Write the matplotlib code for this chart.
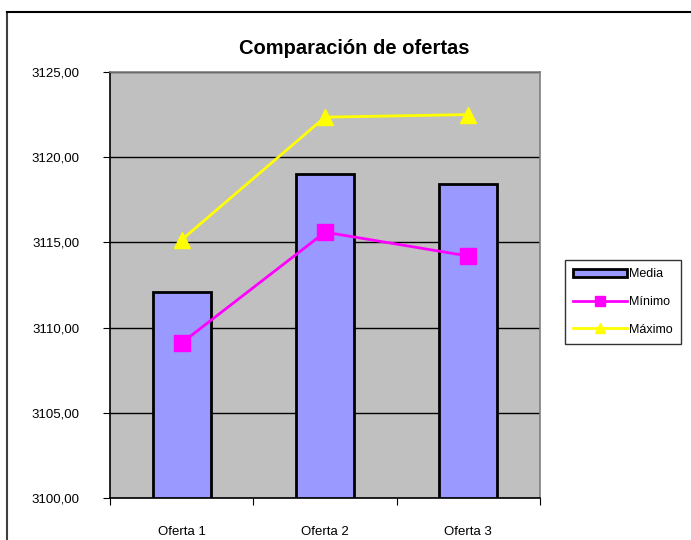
import matplotlib
matplotlib.use('Agg')
import matplotlib.pyplot as plt
from matplotlib.lines import Line2D
from matplotlib.patches import Patch
from matplotlib.ticker import FuncFormatter

plt.rcParams['font.family'] = ['Liberation Sans', 'DejaVu Sans']

categorias = ['Oferta 1', 'Oferta 2', 'Oferta 3']
media = [3112.1, 3119.0, 3118.4]
minimo = [3109.1, 3115.6, 3114.2]
maximo = [3115.15, 3122.35, 3122.5]

fig = plt.figure(figsize=(6.91, 5.4), dpi=100)
ax = fig.add_axes([110 / 691, 42 / 540, 430 / 691, 426 / 540])
ax.set_facecolor('#C0C0C0')

x = list(range(len(categorias)))
ax.bar(x, [m - 3100 for m in media], bottom=3100, width=0.405,
       color='#9999FF', edgecolor='black', linewidth=2, zorder=3)
ax.plot(x, minimo, color='#FF00FF', lw=2, marker='s', markersize=11,
        markeredgecolor='#FF00FF', zorder=4)
ax.plot(x, maximo, color='#FFFF00', lw=2, marker='^', markersize=12,
        markeredgecolor='#FFFF00', zorder=4)

ax.set_xlim(-0.5, 2.5)
ax.set_ylim(3100, 3125)
ax.set_yticks([3100, 3105, 3110, 3115, 3120, 3125])
ax.yaxis.set_major_formatter(FuncFormatter(lambda v, p: f'{v:.2f}'.replace('.', ',')))
ax.grid(axis='y', color='black', lw=1, zorder=1)
ax.set_axisbelow(True)

ax.set_xticks([-0.5, 0.5, 1.5, 2.5])
ax.set_xticklabels([])
ax.set_xticks(x, minor=True)
ax.set_xticklabels(categorias, minor=True)
ax.tick_params(axis='x', which='minor', length=0, pad=20, labelsize=9.5)
ax.tick_params(axis='x', which='major', direction='out', length=5, color='black')
ax.tick_params(axis='y', direction='out', length=5, labelsize=9.5, pad=17)

for s in ['top', 'right']:
    ax.spines[s].set_color('#808080')
    ax.spines[s].set_linewidth(1.2)
for s in ['left', 'bottom']:
    ax.spines[s].set_color('black')
    ax.spines[s].set_linewidth(1.2)

fig.text(354 / 691, 1 - 48 / 540, 'Comparación de ofertas', ha='center', va='center',
         fontsize=14.5, fontweight='bold')

handles = [
    Patch(facecolor='#9999FF', edgecolor='black', linewidth=2),
    Line2D([], [], color='#FF00FF', lw=2, marker='s', markersize=7),
    Line2D([], [], color='#FFFF00', lw=2, marker='^', markersize=7),
]
leg = fig.legend(handles, ['Media', 'Mínimo', 'Máximo'], loc='center',
                 bbox_to_anchor=(623 / 691, 1 - 302 / 540), fontsize=9,
                 frameon=True, fancybox=False, edgecolor='black',
                 handlelength=4.3, handletextpad=0.15, borderpad=0.7,
                 labelspacing=1.25)
leg.get_frame().set_linewidth(1)

# marco exterior (solo borde superior e izquierdo visibles)
fig.add_artist(Line2D([7 / 691, 7 / 691], [0, 1 - 12 / 540], color='#404040', lw=1.5))
fig.add_artist(Line2D([7 / 691, 1], [1 - 12 / 540, 1 - 12 / 540], color='black', lw=1.5))

fig.savefig('out.png', dpi=100)
